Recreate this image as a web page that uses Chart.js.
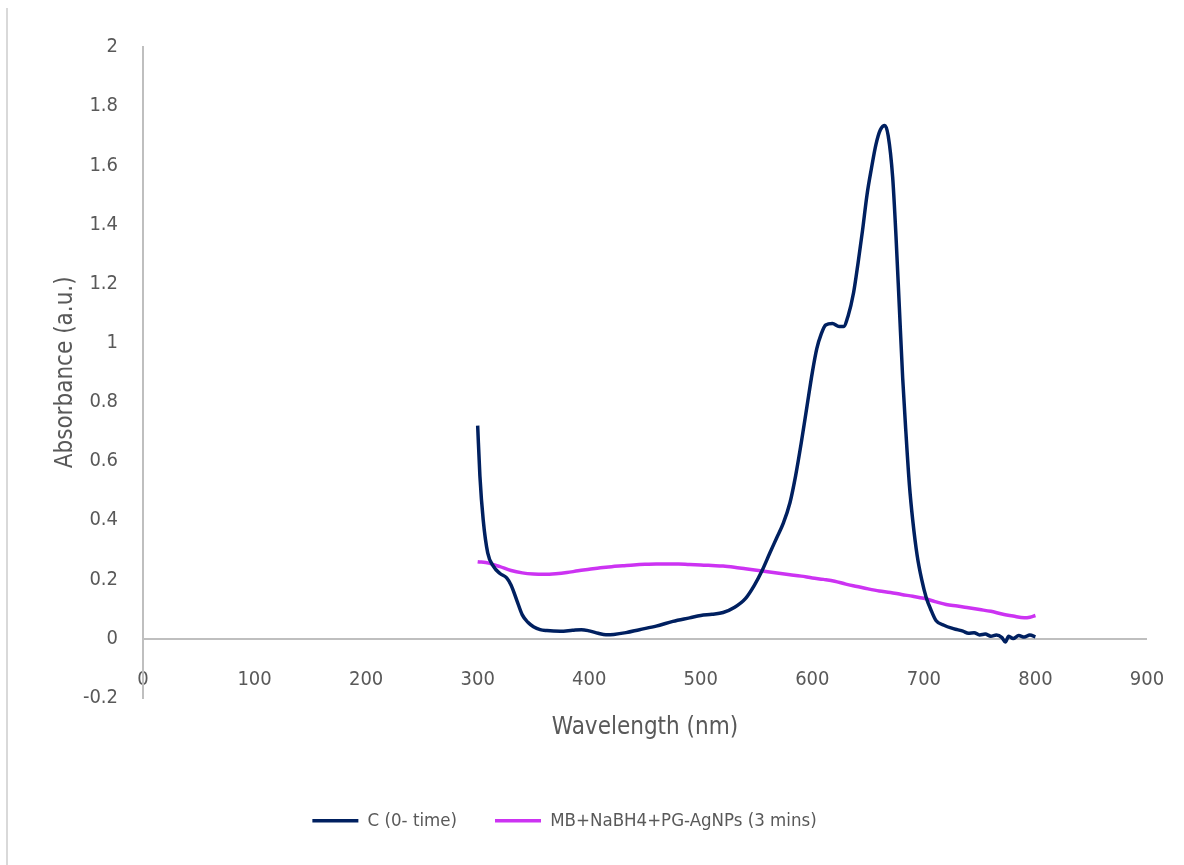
<!DOCTYPE html>
<html>
<head>
<meta charset="utf-8">
<script src="https://cdn.jsdelivr.net/npm/chart.js@4.4.1/dist/chart.umd.min.js"></script>
<style>
  html, body { margin: 0; padding: 0; background: #fff; }
  #wrap { position: relative; width: 1184px; height: 865px; }
  #frame { position: absolute; left: 6px; top: 8px; bottom: 0; width: 2px; background: #d9d9d9; }
</style>
</head>
<body>
<div id="wrap">
  <div id="frame"></div>
  <canvas id="spectrum"></canvas>
</div>
<script>
// UV-Vis spectra

const wavelengthC = [300, 302, 305, 309, 314, 320, 326, 330, 335, 340, 345, 350, 356, 362, 374, 385, 393, 400, 408, 415,
  422, 433, 445, 460, 475, 490, 500, 510, 520, 530, 540, 548, 555, 562, 568, 574, 580, 585, 590, 595,
  600, 604, 608, 612, 618, 624, 628, 632, 637, 641, 645, 649, 653, 657, 661, 665, 668, 672, 675, 678,
  681, 684, 687, 690, 694, 698, 702, 706, 711, 718, 725, 730, 735, 740, 745, 750, 755, 760, 765, 770,
  773, 776, 780, 785, 790, 795, 800];
const absorbanceC = [0.72, 0.55, 0.40, 0.29, 0.245, 0.22, 0.205, 0.18, 0.13, 0.08, 0.055, 0.04, 0.03, 0.027, 0.025, 0.028, 0.03, 0.026, 0.018, 0.013,
  0.014, 0.02, 0.03, 0.042, 0.058, 0.07, 0.078, 0.082, 0.088, 0.105, 0.135, 0.18, 0.23, 0.29, 0.34, 0.39, 0.46, 0.55, 0.66, 0.78,
  0.9, 0.98, 1.03, 1.06, 1.065, 1.055, 1.055, 1.09, 1.17, 1.27, 1.38, 1.5, 1.59, 1.67, 1.72, 1.735, 1.70, 1.56, 1.36, 1.12,
  0.88, 0.69, 0.52, 0.40, 0.28, 0.20, 0.14, 0.10, 0.06, 0.045, 0.035, 0.03, 0.025, 0.018, 0.02, 0.012, 0.015, 0.008, 0.012, 0.003,
  -0.012, 0.008, 0.0, 0.01, 0.005, 0.012, 0.006];

const wavelengthMB = [300, 310, 320, 330, 340, 350, 360, 370, 380, 390, 400, 410, 420, 430, 440, 450, 460, 470, 480, 490,
  500, 510, 520, 530, 540, 550, 560, 570, 580, 590, 600, 610, 620, 630, 640, 650, 660, 670, 680, 690,
  700, 710, 720, 730, 740, 750, 760, 770, 780, 790, 795, 800];
const absorbanceMB = [0.26, 0.255, 0.243, 0.23, 0.222, 0.218, 0.217, 0.219, 0.223, 0.229, 0.234, 0.239, 0.243, 0.246, 0.249, 0.251, 0.252, 0.252, 0.252, 0.25,
  0.249, 0.247, 0.245, 0.241, 0.236, 0.231, 0.226, 0.221, 0.216, 0.211, 0.205, 0.2, 0.194, 0.184, 0.176, 0.168, 0.161, 0.156, 0.149, 0.143,
  0.136, 0.125, 0.115, 0.11, 0.104, 0.098, 0.092, 0.083, 0.076, 0.07, 0.072, 0.078];

const seriesNames = ['C (0- time)', 'MB+NaBH4+PG-AgNPs (3 mins)'];
const seriesColors = ['#002060', '#cc33f2'];

const FONT = "'DejaVu Sans Condensed', 'Roboto', sans-serif";
const TEXT = '#595959';
const AXIS = '#bfbfbf';

const toPoints = (xs, ys) => xs.map((x, i) => ({ x, y: ys[i] }));

new Chart(document.getElementById('spectrum'), {
  type: 'line',
  data: {
    datasets: [
      {
        label: seriesNames[0],
        data: toPoints(wavelengthC, absorbanceC),
        borderColor: seriesColors[0],
        backgroundColor: seriesColors[0],
        borderWidth: 3.5,
        pointRadius: 0,
        cubicInterpolationMode: 'monotone',
      },
      {
        label: seriesNames[1],
        data: toPoints(wavelengthMB, absorbanceMB),
        borderColor: seriesColors[1],
        backgroundColor: seriesColors[1],
        borderWidth: 3.5,
        pointRadius: 0,
        cubicInterpolationMode: 'monotone',
      },
    ],
  },
  options: {
    responsive: true,
    maintainAspectRatio: false,
    animation: false,
    // negative left padding pulls the centred legend left, the y axis width makes up for it
    layout: { padding: { left: -18, right: 37, top: 47, bottom: 25 } },
    scales: {
      // value axis drawn across y = 0, labels hang below it
      x: {
        type: 'linear',
        position: { y: 0 },
        min: 0,
        max: 900,
        afterFit: (scale) => { scale.paddingLeft = 0; scale.paddingRight = 0; },
        border: { display: false },
        grid: { display: false, drawTicks: false },
        ticks: {
          stepSize: 100,
          padding: 29,
          color: TEXT,
          font: { family: FONT, size: 20 },
          maxRotation: 0,
        },
      },
      // carries only the axis title below the plot
      xTitle: {
        type: 'linear',
        axis: 'x',
        position: 'bottom',
        min: 0,
        max: 900,
        border: { display: false },
        grid: { display: false, drawTicks: false },
        ticks: { display: false },
        title: {
          display: true,
          text: 'Wavelength (nm)',
          color: TEXT,
          font: { family: FONT, size: 24 },
          padding: { top: 16, bottom: 31 },
        },
      },
      y: {
        min: -0.2,
        max: 2,
        afterFit: (scale) => { scale.width = 161; },
        border: { display: true, color: AXIS, width: 2 },
        grid: {
          drawTicks: false,
          lineWidth: 2,
          color: (ctx) => (ctx.tick && Math.abs(ctx.tick.value) < 1e-9 ? AXIS : 'rgba(0,0,0,0)'),
        },
        ticks: {
          stepSize: 0.2,
          padding: 25,
          color: TEXT,
          font: { family: FONT, size: 20 },
          callback: (v) => String(Number(v.toFixed(1))),
        },
        title: {
          display: true,
          text: 'Absorbance (a.u.)',
          color: TEXT,
          font: { family: FONT, size: 24 },
          padding: { top: 69, bottom: 0 },
        },
      },
    },
    plugins: {
      legend: {
        position: 'bottom',
        labels: {
          color: TEXT,
          font: { family: FONT, size: 18.5 },
          usePointStyle: true,
          pointStyle: 'line',
          pointStyleWidth: 46,
          padding: 38,
        },
      },
      tooltip: { enabled: false },
    },
  },
});
</script>
</body>
</html>
